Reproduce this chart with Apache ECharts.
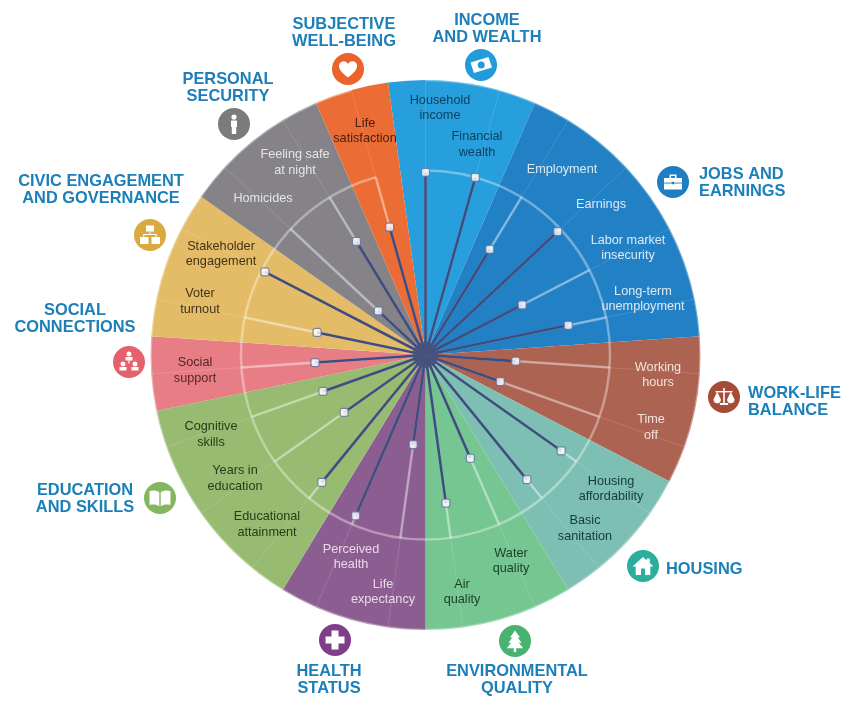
<!DOCTYPE html>
<html>
<head>
<meta charset="utf-8">
<title>Better Life Index</title>
<style>
    html, body { margin: 0; background: #fff; }
    #chart { width: 846px; height: 710px; }
</style>
<script src="https://cdn.jsdelivr.net/npm/echarts@6/dist/echarts.min.js"></script>
</head>
<body>
<div id="chart"></div>
<script>
// one slot per indicator, clockwise from the top
var indicators = [
    'Household income', 'Financial wealth',
    'Employment', 'Earnings', 'Labor market insecurity', 'Long-term unemployment',
    'Working hours', 'Time off',
    'Housing affordability', 'Basic sanitation',
    'Water quality', 'Air quality',
    'Life expectancy', 'Perceived health',
    'Educational attainment', 'Years in education', 'Cognitive skills',
    'Social support',
    'Voter turnout', 'Stakeholder engagement',
    'Homicides', 'Feeling safe at night',
    'Life satisfaction'
];
var scores = [
    9.9, 10.0,
    6.7, 9.8, 5.9, 7.9,
    4.9, 4.3,
    9.0, 8.7,
    6.1, 8.1,
    4.9, 9.5,
    8.9, 5.4, 5.9,
    6.0,
    6.0, 9.8,
    3.5, 7.2,
    7.2
];
var domains = [
    'INCOME\nAND WEALTH', 'JOBS AND\nEARNINGS', 'WORK-LIFE\nBALANCE', 'HOUSING',
    'ENVIRONMENTAL\nQUALITY', 'HEALTH\nSTATUS', 'EDUCATION\nAND SKILLS', 'SOCIAL\nCONNECTIONS',
    'CIVIC ENGAGEMENT\nAND GOVERNANCE', 'PERSONAL\nSECURITY', 'SUBJECTIVE\nWELL-BEING'
];
var domainIndicatorCounts = [2, 4, 2, 2, 2, 2, 3, 1, 2, 2, 1];

// styling and layout, kept apart from the values above
var sectorColors = ['#279fdc', '#2280c5', '#ad6351', '#7dc0b3', '#75c691', '#8c5d90', '#97bb70', '#e87e85', '#e4bc67', '#858388', '#eb6c35'];
var iconColors = ['#239ad9', '#1f7dc1', '#a54c38', '#2bae9c', '#48b270', '#7f3e87', '#84b55f', '#e5616d', '#d9aa40', '#7b7a7d', '#e9632b'];
var iconSpots = [[481, 65], [673, 182], [724, 397], [643, 566], [515, 641], [335, 640], [160, 498], [129, 362], [150, 235], [234, 124], [348, 69]];
var titleSpots = [
    [487, 29, 'center'], [699, 183, 'left'], [748, 402, 'left'], [666, 569, 'left'],
    [517, 680, 'center'], [329, 680, 'center'], [85, 499, 'center'], [75, 319, 'center'],
    [101, 190, 'center'], [228, 88, 'center'], [344, 33, 'center']
];
var labelSpots = [
    [440, 108], [477, 144.5], [562, 169], [601, 204], [628, 248], [643, 299], [658, 375], [651, 427.5],
    [611, 489], [585, 528.5], [511, 561], [462, 592], [383, 592], [351, 557], [267, 524.5], [235, 478.5], [211, 434.5],
    [195, 370.5], [200, 301.5], [221, 254], [263, 198], [295, 162.5], [365, 131]
];
var labelBreaks = {
    'Household income': 'Household\nincome', 'Financial wealth': 'Financial\nwealth',
    'Labor market insecurity': 'Labor market\ninsecurity', 'Long-term unemployment': 'Long-term\nunemployment',
    'Working hours': 'Working\nhours', 'Time off': 'Time\noff',
    'Housing affordability': 'Housing\naffordability', 'Basic sanitation': 'Basic\nsanitation',
    'Water quality': 'Water\nquality', 'Air quality': 'Air\nquality',
    'Life expectancy': 'Life\nexpectancy', 'Perceived health': 'Perceived\nhealth',
    'Educational attainment': 'Educational\nattainment', 'Years in education': 'Years in\neducation',
    'Cognitive skills': 'Cognitive\nskills', 'Social support': 'Social\nsupport',
    'Voter turnout': 'Voter\nturnout', 'Stakeholder engagement': 'Stakeholder\nengagement',
    'Feeling safe at night': 'Feeling safe\nat night', 'Life satisfaction': 'Life\nsatisfaction'
};
var labelColors = ['#10405f', '#dbe9f5', '#f3e2dc', '#17393a', '#183f28', '#ead9ea', '#2a3b1b', '#55262b', '#40331a', '#e6e5e6', '#4a1f0a'];

// glyphs in a 24x24 box: white shapes first, then shapes in the circle colour
var icons = [
    { white: ['M1.5 9.5L19.5 4 23 14.5 5 20z'], cut: ['M12.2 8.5a3.5 3.5 0 1 0 .01 0z'] },
    { white: ['M3 8h18v11.5H3z', 'M8.5 8V4.5h7V8h-1.6V6.1h-3.8V8z'], cut: ['M3 12.6h18v.9H3z', 'M10.8 11.8h2.4v2.4h-2.4z'] },
    { white: ['M11.2 3h1.6v15h3.4v2H7.8v-2h3.4z', 'M3.5 6h17v1.4h-17z', 'M1.5 14.5a3.7 3.7 0 0 0 7.4 0L5.6 7.4h-.8z', 'M15.1 14.5a3.7 3.7 0 0 0 7.4 0l-3.3-7.1h-.8z'], cut: [] },
    { white: ['M12 3L1.5 12.5h3.2V21h14.6v-8.5h3.2l-3.7-3.4V4.5h-3v2z'], cut: ['M10 14.5h4V21h-4z'] },
    { white: ['M12 1.5l5 7h-2.4l4 5.2h-2.7l4.3 5.5H13.2V23h-2.4v-3.8H3.8l4.3-5.5H5.4l4-5.2H7z'], cut: [] },
    { white: ['M8.5 2.5h7v6h6v7h-6v6h-7v-6h-6v-7h6z'], cut: [] },
    { white: ['M1.5 5c4-1 7.5-.5 9.8 1.2v14C9 18.6 5.5 18.1 1.5 19z', 'M22.5 5c-4-1-7.5-.5-9.8 1.2v14c2.3-1.6 5.8-2.1 9.8-1.2z'], cut: [] },
    { white: ['M12 1.5a2.5 2.5 0 1 0 .01 0z', 'M8.5 7h7v3.5h-7z', 'M6 11.5a2.5 2.5 0 1 0 .01 0z', 'M2.5 17h7v3.5h-7z', 'M18 11.5a2.5 2.5 0 1 0 .01 0z', 'M14.5 17h7v3.5h-7z', 'M11.4 10.5h1.2v3h-1.2z'], cut: [] },
    { white: ['M8 2.5h8v6H8z', 'M2 14h8.5v7H2z', 'M13.5 14H22v7h-8.5z', 'M11.5 8.5h1V11h6.2v3h-1v-2H6.3v2h-1v-3h6.2z'], cut: [] },
    { white: ['M12 2.5a2.6 2.6 0 1 0 .01 0z', 'M9 8.5h6V15h-.8v7H9.8v-7H9z'], cut: [] },
    { white: ['M12 20.5C5.5 15.5 3 12.5 3 9a4.7 4.7 0 0 1 9-2 4.7 4.7 0 0 1 9 2c0 3.5-2.5 6.5-9 11.5z'], cut: [] }
];

var slotSpokes = scores.map(function (score, i) {
    return [score, i];
});

function domainIndexOf(indicatorIndex) {
    var seen = 0;
    for (var d = 0; d < domainIndicatorCounts.length; d++) {
        seen += domainIndicatorCounts[d];
        if (indicatorIndex < seen) {
            return d;
        }
    }
}

// the graphic component has no plain path type, so each glyph part is registered as a shape
var glyphCount = 0;
function glyphPart(pathData, color) {
    var name = 'glyph' + (glyphCount++);
    echarts.graphic.registerShape(name, echarts.graphic.extendPath(pathData));
    return { type: name, x: -12, y: -12, style: { fill: color } };
}

function buildGraphics() {
    var items = [];
    domains.forEach(function (name, d) {
        var spot = iconSpots[d];
        var children = [{
            type: 'circle',
            shape: { r: 16 },
            style: { fill: iconColors[d] }
        }];
        icons[d].white.forEach(function (p) {
            children.push(glyphPart(p, '#fff'));
        });
        icons[d].cut.forEach(function (p) {
            children.push(glyphPart(p, iconColors[d]));
        });
        items.push({ type: 'group', x: spot[0], y: spot[1], children: children });
        items.push({
            type: 'text',
            x: titleSpots[d][0],
            y: titleSpots[d][1],
            style: {
                text: name,
                fill: '#1c7fb9',
                font: 'bold 16.4px "Liberation Sans", Arial, sans-serif',
                lineHeight: 16.5,
                align: titleSpots[d][2],
                verticalAlign: 'middle'
            }
        });
    });
    indicators.forEach(function (name, i) {
        items.push({
            type: 'text',
            x: labelSpots[i][0],
            y: labelSpots[i][1],
            z: 100,
            style: {
                text: labelBreaks[name] || name,
                fill: labelColors[domainIndexOf(i)],
                font: '12.7px "Liberation Sans", Arial, sans-serif',
                lineHeight: 15.5,
                align: 'center',
                verticalAlign: 'middle'
            }
        });
    });
    return items;
}

var chart = echarts.init(document.getElementById('chart'));
chart.setOption({
    animation: false,
    backgroundColor: '#fff',
    polar: { center: [425.5, 355], radius: 275 },
    angleAxis: {
        type: 'category',
        data: indicators,
        boundaryGap: false,
        startAngle: 90,
        clockwise: true,
        z: 3,
        axisLine: { show: false },
        axisTick: { show: false },
        axisLabel: { show: false },
        splitLine: { show: true, lineStyle: { color: 'rgba(255,255,255,0.13)', width: 1 } }
    },
    radiusAxis: {
        type: 'value',
        min: 0,
        max: 14.9,
        interval: 10,
        z: 3,
        axisLine: { show: false },
        axisTick: { show: false },
        axisLabel: { show: false },
        splitLine: { show: true, lineStyle: { color: 'rgba(255,255,255,0.36)', width: 2.5 } }
    },
    graphic: buildGraphics(),
    series: [
        {
            type: 'pie',
            center: [425.5, 355],
            radius: [0, 275],
            startAngle: 90 + 180 / indicators.length,
            z: 1,
            silent: true,
            label: { show: false },
            labelLine: { show: false },
            data: domains.map(function (name, d) {
                return { name: name, value: domainIndicatorCounts[d], itemStyle: { color: sectorColors[d] } };
            })
        },
        {
            // spokes: pale up to the ring, dark up to the score
            type: 'custom',
            coordinateSystem: 'polar',
            z: 4,
            silent: true,
            data: slotSpokes,
            renderItem: function (params, api) {
                var hub = api.coord([0, api.value(1)]);
                var ring = api.coord([10, api.value(1)]);
                var tip = api.coord([api.value(0), api.value(1)]);
                return {
                    type: 'group',
                    children: [
                        { type: 'line', shape: { x1: hub[0], y1: hub[1], x2: ring[0], y2: ring[1] }, style: { stroke: 'rgba(255,255,255,0.4)', lineWidth: 2.5 } },
                        { type: 'line', shape: { x1: hub[0], y1: hub[1], x2: tip[0], y2: tip[1] }, style: { stroke: '#3f4d7e', lineWidth: 2.6 } }
                    ]
                };
            }
        },
        {
            type: 'scatter',
            coordinateSystem: 'polar',
            z: 5,
            silent: true,
            symbol: 'roundRect',
            symbolSize: 8,
            itemStyle: { color: '#fff', borderColor: '#5f6f9f', borderWidth: 1.2 },
            data: slotSpokes
        },
        {
            type: 'scatter',
            coordinateSystem: 'polar',
            z: 6,
            silent: true,
            symbol: 'circle',
            symbolSize: 26,
            itemStyle: { color: '#46517c' },
            data: [[0, 0]]
        }
    ]
});
window.addEventListener('resize', function () {
    chart.resize();
});
</script>
</body>
</html>
